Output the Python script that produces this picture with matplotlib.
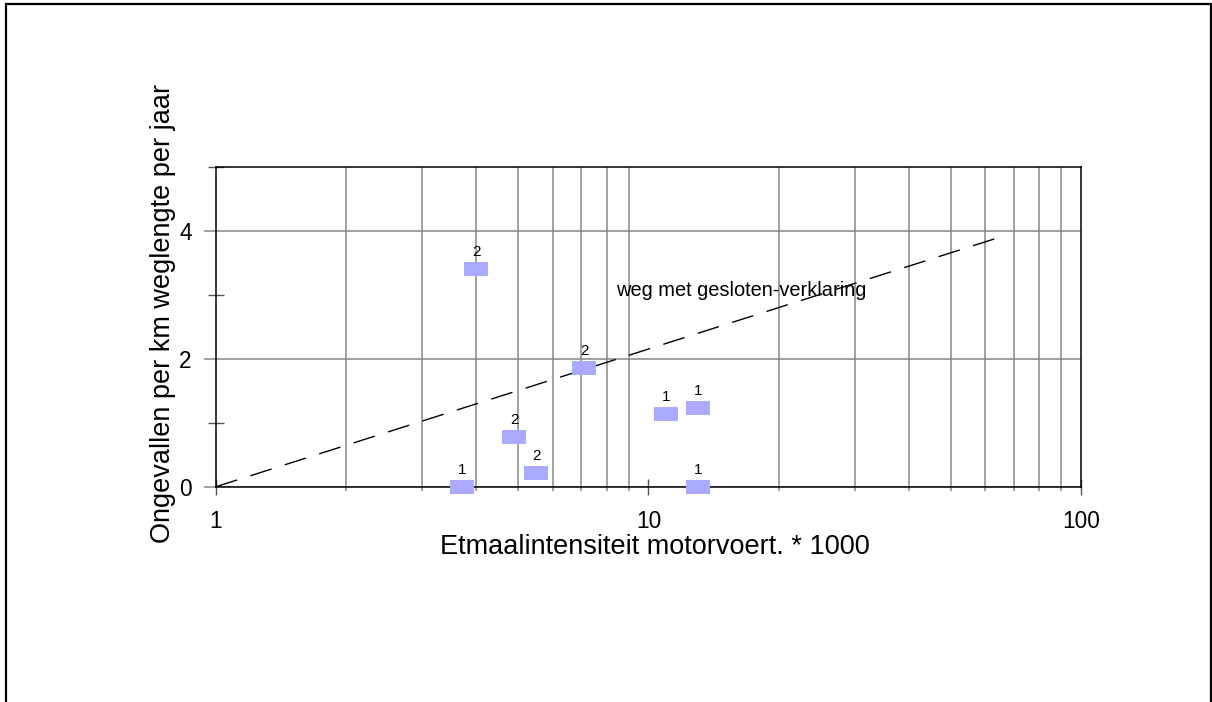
import numpy as np
import matplotlib
matplotlib.use("Agg")
import matplotlib.pyplot as plt
from matplotlib.patches import Rectangle
from matplotlib.ticker import FixedLocator, NullFormatter

plt.rcParams['font.family'] = ['Liberation Sans', 'DejaVu Sans']

# gegevens
intensiteit = [4.0, 7.1, 4.9, 5.5, 3.7, 11.0, 13.0, 13.0]
ongevallen = [3.40, 1.85, 0.77, 0.22, 0.0, 1.14, 1.23, 0.0]
aantal = ["2", "2", "2", "2", "1", "1", "1", "1"]

# lijn "weg met gesloten-verklaring"
lijn_x = [1, 65]
lijn_y = [0.0, 3.9]

x_major = [1, 10, 100]
x_minor = [2, 3, 4, 5, 6, 7, 8, 9, 20, 30, 40, 50, 60, 70, 80, 90]
y_major = [0, 2, 4]
y_minor = [1, 3, 5]

fig = plt.figure(figsize=(12.12, 7.02), dpi=100)
ax = fig.add_axes([0.1782, 0.3067, 0.7137, 0.4558])

grijs = "#888888"

ax.set_xscale("log")
ax.set_xlim(1, 100)
ax.set_ylim(0, 5)

ax.xaxis.set_major_locator(FixedLocator(x_major))
ax.xaxis.set_minor_locator(FixedLocator(x_minor))
ax.xaxis.set_minor_formatter(NullFormatter())
ax.set_xticklabels([str(v) for v in x_major])
ax.yaxis.set_major_locator(FixedLocator(y_major))
ax.yaxis.set_minor_locator(FixedLocator(y_minor))

ax.grid(which="minor", axis="x", color=grijs, linewidth=1.1)
ax.grid(which="major", axis="y", color=grijs, linewidth=1.1)
ax.set_axisbelow(True)

ax.tick_params(axis="x", which="major", direction="inout", length=11,
               width=1.0, color="#555555", labelsize=16.3, pad=11)
ax.tick_params(axis="x", which="minor", direction="out", length=3,
               width=1.1, color=grijs)
ax.tick_params(axis="y", which="major", direction="out", length=8.6,
               width=1.1, color=grijs, labelsize=16.3, pad=9)
ax.tick_params(axis="y", which="minor", direction="inout", length=12,
               width=1.0, color="#555555")

for s in ax.spines.values():
    s.set_color("black")
    s.set_linewidth(1.1)

# diagonale stippellijn
ax.plot(lijn_x, lijn_y, color="black", linewidth=1.0,
        linestyle=(0, (16, 10)), zorder=3)
ax.text(8.41, 3.06, "weg met gesloten-verklaring", fontsize=14.4,
        ha="left", va="center", zorder=4)

# rechthoekige markers
rechthoek = [(-1, -0.55), (1, -0.55), (1, 0.55), (-1, 0.55), (-1, -0.55)]
ax.plot(intensiteit, ongevallen, linestyle="none", marker=rechthoek,
        markersize=17.3, markerfacecolor="#aaaaff", markeredgewidth=0,
        clip_on=False, zorder=5)
for xv, yv, lab in zip(intensiteit, ongevallen, aantal):
    ax.annotate(lab, (xv, yv), xytext=(0, 12.2), textcoords="offset points",
                ha="center", va="center", fontsize=11, zorder=6)

fig.text(0.5404, 0.2215, "Etmaalintensiteit motorvoert. * 1000",
         fontsize=19.5, ha="center", va="center")
fig.text(0.1345, 0.554, "Ongevallen per km weglengte per jaar",
         fontsize=19.5, ha="center", va="center", rotation=90)

# kader rond de figuur
kader = Rectangle((6 / 1212, -0.05), 1204.5 / 1212, 1.05 - 4.3 / 702,
                  transform=fig.transFigure, fill=False, edgecolor="black",
                  linewidth=1.6, clip_on=False)
fig.patches.append(kader)

fig.savefig("out.png", dpi=100)
